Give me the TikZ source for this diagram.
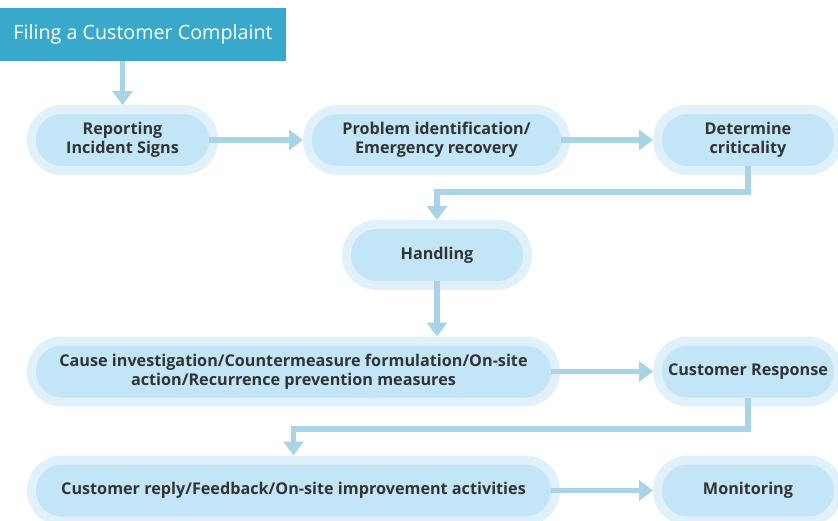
\documentclass[tikz,border=0pt]{standalone}
\usepackage{fontspec}
\setmainfont{Open Sans}
\usetikzlibrary{arrows.meta}
\definecolor{titlebg}{HTML}{39A9CB}
\definecolor{ring}{HTML}{E0F1FB}
\definecolor{pillfill}{HTML}{C3E5F8}
\definecolor{flowc}{HTML}{A9D3E6}
\definecolor{txt}{HTML}{333333}
\begin{document}
\begin{tikzpicture}[x=1pt,y=-1pt,
  pill/.style={draw=ring,line width=9pt,fill=pillfill,rounded corners=30pt,
    minimum height=61pt,text=txt,font=\fontsize{16.2}{19}\selectfont\bfseries,
    align=center,inner sep=0pt,outer sep=0pt},
  flow/.style={draw=flowc,line width=5.5pt,
    -{Triangle[length=14pt,width=20pt]},shorten >=4.5pt,shorten <=-4.5pt}]
  \useasboundingbox (0,0) rectangle (838,520);
  % title
  \node[fill=titlebg,text=white,minimum width=286pt,minimum height=53pt,
    inner sep=0pt,outer sep=0pt,font=\fontsize{19.7}{22}\selectfont] (title) at (143,34.5)
    {Filing a Customer Complaint};
  % steps
  \node[pill,minimum width=182pt] (rep) at (122.5,140) {Reporting\\Incident Signs};
  \node[pill,minimum width=258pt] (prob) at (436.5,140) {Problem identification/\\Emergency recovery};
  \node[pill,minimum width=181pt] (crit) at (748,140) {Determine\\criticality};
  \node[pill,minimum width=181pt] (hand) at (437,255) {Handling};
  \node[pill,minimum width=524pt] (cause) at (293.5,371.5)
    {Cause investigation/Countermeasure formulation/On-site\\action/Recurrence prevention measures};
  \node[pill,minimum width=181pt] (resp) at (748,371.5) {Customer Response};
  \node[pill,minimum width=524pt] (reply) at (293.5,490.5)
    {Customer reply/Feedback/On-site improvement activities};
  \node[pill,minimum width=181pt] (mon) at (748,490.5) {Monitoring};
  % arrows
  \draw[flow,shorten <=0pt] (rep.north |- title.south) -- (rep.north);
  \draw[flow] (rep.east) -- (prob.west);
  \draw[flow] (prob.east) -- (crit.west);
  \draw[flow] (crit.south) -- (crit.south |- 0,192) -| (hand.north);
  \draw[flow] (hand.south) -- (hand.south |- cause.north);
  \draw[flow] (cause.east) -- (resp.west);
  \draw[flow] (resp.south) -- (resp.south |- 0,429) -| (reply.north);
  \draw[flow] (reply.east) -- (mon.west);
\end{tikzpicture}
\end{document}
